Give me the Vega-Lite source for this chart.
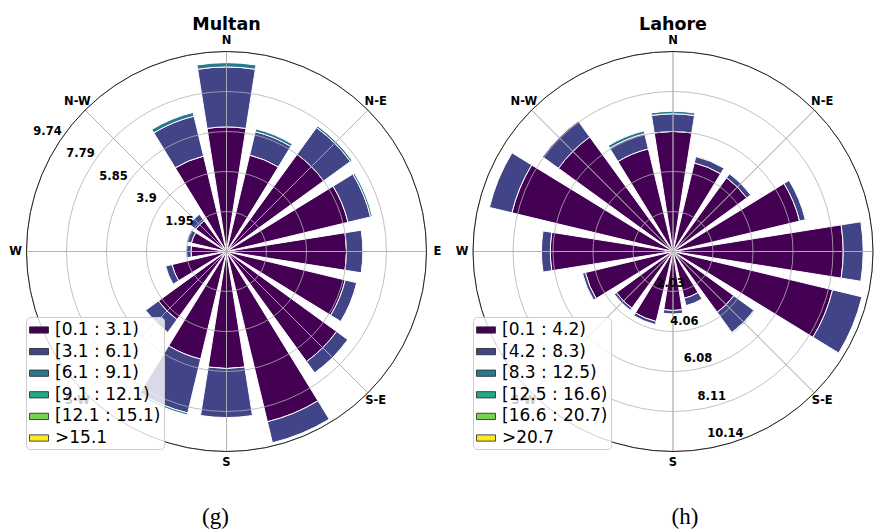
{
 "$schema": "https://vega.github.io/schema/vega-lite/v6.json",
 "padding": 0,
 "background": "white",
 "bounds": "flush",
 "spacing": 15,
 "config": {"view": {"stroke": null}, "font": "DejaVu Sans"},
 "datasets": {
  "m": [
   {"dir":0,"k":0,"bin":"[0.1 : 3.1)","v":6.07},{"dir":0,"k":1,"bin":"[3.1 : 6.1)","v":2.92},{"dir":0,"k":2,"bin":"[6.1 : 9.1)","v":0.21},
   {"dir":22.5,"k":0,"bin":"[0.1 : 3.1)","v":4.83},{"dir":22.5,"k":1,"bin":"[3.1 : 6.1)","v":1.17},{"dir":22.5,"k":2,"bin":"[6.1 : 9.1)","v":0.14},
   {"dir":45,"k":0,"bin":"[0.1 : 3.1)","v":5.85},{"dir":45,"k":1,"bin":"[3.1 : 6.1)","v":1.61},{"dir":45,"k":2,"bin":"[6.1 : 9.1)","v":0.1},
   {"dir":67.5,"k":0,"bin":"[0.1 : 3.1)","v":6.09},{"dir":67.5,"k":1,"bin":"[3.1 : 6.1)","v":1.13},{"dir":67.5,"k":2,"bin":"[6.1 : 9.1)","v":0.09},
   {"dir":90,"k":0,"bin":"[0.1 : 3.1)","v":5.85},{"dir":90,"k":1,"bin":"[3.1 : 6.1)","v":0.8},{"dir":90,"k":2,"bin":"[6.1 : 9.1)","v":0.02},
   {"dir":112.5,"k":0,"bin":"[0.1 : 3.1)","v":5.95},{"dir":112.5,"k":1,"bin":"[3.1 : 6.1)","v":0.58},{"dir":112.5,"k":2,"bin":"[6.1 : 9.1)","v":0.02},
   {"dir":135,"k":0,"bin":"[0.1 : 3.1)","v":6.63},{"dir":135,"k":1,"bin":"[3.1 : 6.1)","v":0.68},{"dir":135,"k":2,"bin":"[6.1 : 9.1)","v":0.02},
   {"dir":157.5,"k":0,"bin":"[0.1 : 3.1)","v":8.53},{"dir":157.5,"k":1,"bin":"[3.1 : 6.1)","v":1.05},
   {"dir":180,"k":0,"bin":"[0.1 : 3.1)","v":5.7},{"dir":180,"k":1,"bin":"[3.1 : 6.1)","v":2.39},
   {"dir":202.5,"k":0,"bin":"[0.1 : 3.1)","v":5.39},{"dir":202.5,"k":1,"bin":"[3.1 : 6.1)","v":2.7},{"dir":202.5,"k":2,"bin":"[6.1 : 9.1)","v":0.1},
   {"dir":225,"k":0,"bin":"[0.1 : 3.1)","v":4.1},{"dir":225,"k":1,"bin":"[3.1 : 6.1)","v":0.77},
   {"dir":247.5,"k":0,"bin":"[0.1 : 3.1)","v":2.73},{"dir":247.5,"k":1,"bin":"[3.1 : 6.1)","v":0.32},
   {"dir":270,"k":0,"bin":"[0.1 : 3.1)","v":1.73},{"dir":270,"k":1,"bin":"[3.1 : 6.1)","v":0.22},
   {"dir":292.5,"k":0,"bin":"[0.1 : 3.1)","v":1.76},{"dir":292.5,"k":1,"bin":"[3.1 : 6.1)","v":0.24},
   {"dir":315,"k":0,"bin":"[0.1 : 3.1)","v":1.85},{"dir":315,"k":1,"bin":"[3.1 : 6.1)","v":0.39},
   {"dir":337.5,"k":0,"bin":"[0.1 : 3.1)","v":4.78},{"dir":337.5,"k":1,"bin":"[3.1 : 6.1)","v":2.0},{"dir":337.5,"k":2,"bin":"[6.1 : 9.1)","v":0.19}
  ],
  "l": [
   {"dir":0,"k":0,"bin":"[0.1 : 4.2)","v":6.09},{"dir":0,"k":1,"bin":"[4.2 : 8.3)","v":0.89},{"dir":0,"k":2,"bin":"[8.3 : 12.5)","v":0.13},
   {"dir":22.5,"k":0,"bin":"[0.1 : 4.2)","v":4.62},{"dir":22.5,"k":1,"bin":"[4.2 : 8.3)","v":0.33},
   {"dir":45,"k":0,"bin":"[0.1 : 4.2)","v":4.62},{"dir":45,"k":1,"bin":"[4.2 : 8.3)","v":0.25},
   {"dir":67.5,"k":0,"bin":"[0.1 : 4.2)","v":6.6},{"dir":67.5,"k":1,"bin":"[4.2 : 8.3)","v":0.3},
   {"dir":90,"k":0,"bin":"[0.1 : 4.2)","v":8.63},{"dir":90,"k":1,"bin":"[4.2 : 8.3)","v":1.01},
   {"dir":112.5,"k":0,"bin":"[0.1 : 4.2)","v":8.32},{"dir":112.5,"k":1,"bin":"[4.2 : 8.3)","v":1.53},
   {"dir":135,"k":0,"bin":"[0.1 : 4.2)","v":3.81},{"dir":135,"k":1,"bin":"[4.2 : 8.3)","v":1.27},{"dir":135,"k":2,"bin":"[8.3 : 12.5)","v":0.05},
   {"dir":157.5,"k":0,"bin":"[0.1 : 4.2)","v":2.44},{"dir":157.5,"k":1,"bin":"[4.2 : 8.3)","v":0.38},
   {"dir":180,"k":0,"bin":"[0.1 : 4.2)","v":2.99},{"dir":180,"k":1,"bin":"[4.2 : 8.3)","v":0.18},
   {"dir":202.5,"k":0,"bin":"[0.1 : 4.2)","v":3.65},{"dir":202.5,"k":1,"bin":"[4.2 : 8.3)","v":0.16},
   {"dir":225,"k":0,"bin":"[0.1 : 4.2)","v":3.55},{"dir":225,"k":1,"bin":"[4.2 : 8.3)","v":0.13},
   {"dir":247.5,"k":0,"bin":"[0.1 : 4.2)","v":4.57},{"dir":247.5,"k":1,"bin":"[4.2 : 8.3)","v":0.15},
   {"dir":270,"k":0,"bin":"[0.1 : 4.2)","v":6.22},{"dir":270,"k":1,"bin":"[4.2 : 8.3)","v":0.45},
   {"dir":292.5,"k":0,"bin":"[0.1 : 4.2)","v":8.4},{"dir":292.5,"k":1,"bin":"[4.2 : 8.3)","v":1.17},
   {"dir":315,"k":0,"bin":"[0.1 : 4.2)","v":7.18},{"dir":315,"k":1,"bin":"[4.2 : 8.3)","v":0.99},
   {"dir":337.5,"k":0,"bin":"[0.1 : 4.2)","v":5.35},{"dir":337.5,"k":1,"bin":"[4.2 : 8.3)","v":0.79},{"dir":337.5,"k":2,"bin":"[8.3 : 12.5)","v":0.15}
  ],
  "mr": [{"r":1.9486,"lab":"1.95"},{"r":3.8972,"lab":"3.9"},{"r":5.8458,"lab":"5.85"},{"r":7.7944,"lab":"7.79"},{"r":9.743,"lab":"9.74"}],
  "lr": [{"r":2.0276,"lab":"2.03"},{"r":4.0552,"lab":"4.06"},{"r":6.0828,"lab":"6.08"},{"r":8.1104,"lab":"8.11"},{"r":10.138,"lab":"10.14"}],
  "sp": [{"dir":0},{"dir":45},{"dir":90},{"dir":135},{"dir":180},{"dir":225},{"dir":270},{"dir":315}],
  "dl": [{"dir":0,"lab":"N"},{"dir":45,"lab":"N-E"},{"dir":90,"lab":"E"},{"dir":135,"lab":"S-E"},{"dir":180,"lab":"S"},{"dir":225,"lab":"S-W"},{"dir":270,"lab":"W"},{"dir":315,"lab":"N-W"}],
  "dl2": [{"dir":0,"lab":"N"},{"dir":45,"lab":"N-E"},{"dir":135,"lab":"S-E"},{"dir":180,"lab":"S"},{"dir":225,"lab":"S-W"},{"dir":270,"lab":"W"},{"dir":315,"lab":"N-W"}]
 },
 "hconcat": [
  {
   "width": 453, "height": 503,
   "layer": [
    {
     "data": {"name": "m"},
     "transform": [
      {"stack": "v", "groupby": ["dir"], "sort": [{"field": "k", "order": "ascending"}], "as": ["r0", "r1"]},
      {"calculate": "datum.dir - 9", "as": "t0"},
      {"calculate": "datum.dir + 9", "as": "t1"}
     ],
     "mark": {"type": "arc", "stroke": "white", "strokeWidth": 1},
     "encoding": {
      "theta": {"field": "t0", "type": "quantitative", "stack": null, "scale": {"type": "linear", "domain": [0, 360], "range": [0, 6.283185307179586]}},
      "theta2": {"field": "t1"},
      "radius": {"field": "r0", "type": "quantitative", "stack": null, "scale": {"type": "linear", "domain": [0, 9.743], "range": [0, 200], "nice": false, "zero": true}},
      "radius2": {"field": "r1"},
      "color": {
       "field": "bin", "type": "nominal",
       "scale": {"domain": ["[0.1 : 3.1)", "[3.1 : 6.1)", "[6.1 : 9.1)", "[9.1 : 12.1)", "[12.1 : 15.1)", ">15.1"], "range": ["#440154", "#414487", "#2a788e", "#22a884", "#7ad151", "#fde725"]},
       "legend": {"title": null, "orient": "none", "legendX": 26, "legendY": 317, "fillColor": "rgba(255,255,255,0.8)", "strokeColor": "#cccccc", "cornerRadius": 4, "padding": 3, "labelFont": "DejaVu Sans", "labelFontSize": 17, "labelColor": "black", "labelOffset": 6, "rowPadding": 3.6, "labelLimit": 300, "symbolType": "M-1,-0.33H1V0.33H-1Z", "symbolSize": 361, "symbolStrokeColor": "#222222", "symbolStrokeWidth": 0.8, "symbolOpacity": 1,
        "encode": {"symbols": {"update": {"stroke": {"value": "#222222"}, "strokeWidth": {"value": 0.8}}}}}
      }
     }
    },
    {
     "data": {"name": "mr"},
     "mark": {"type": "arc", "theta": 0, "theta2": 6.2832, "filled": false, "stroke": "#b0b0b0", "strokeWidth": 0.8},
     "encoding": {"radius": {"field": "r", "type": "quantitative", "stack": null, "scale": {"type": "linear", "domain": [0, 9.743], "range": [0, 200], "nice": false, "zero": true}}}
    },
    {
     "data": {"name": "sp"},
     "mark": {"type": "arc", "filled": false, "stroke": "#b0b0b0", "strokeWidth": 0.8},
     "encoding": {
      "theta": {"field": "dir", "type": "quantitative", "stack": null, "scale": {"type": "linear", "domain": [0, 360], "range": [0, 6.283185307179586]}},
      "theta2": {"field": "dir"},
      "radius": {"datum": 9.743, "type": "quantitative", "stack": null, "scale": {"type": "linear", "domain": [0, 9.743], "range": [0, 200], "nice": false, "zero": true}},
      "radius2": {"datum": 0}
     }
    },
    {
     "data": {"values": [{"o": 1}]},
     "mark": {"type": "arc", "theta": 0, "theta2": 6.2832, "filled": false, "stroke": "#222222", "strokeWidth": 1},
     "encoding": {"radius": {"datum": 9.743, "type": "quantitative", "stack": null, "scale": {"type": "linear", "domain": [0, 9.743], "range": [0, 200], "nice": false, "zero": true}}}
    },
    {
     "data": {"name": "dl"},
     "mark": {"type": "text", "radius": 211, "fontWeight": "bold", "fontSize": 11.5, "align": "center", "baseline": "middle", "color": "black"},
     "encoding": {"theta": {"field": "dir", "type": "quantitative", "stack": null, "scale": {"type": "linear", "domain": [0, 360], "range": [0, 6.283185307179586]}}, "text": {"field": "lab"}}
    },
    {
     "data": {"name": "mr"},
     "mark": {"type": "text", "fontWeight": "bold", "fontSize": 11.5, "align": "center", "baseline": "middle", "dx": -14, "dy": -7, "color": "black"},
     "encoding": {
      "theta": {"datum": 304.4, "type": "quantitative", "scale": {"type": "linear", "domain": [0, 360], "range": [0, 6.283185307179586]}},
      "radius": {"field": "r", "type": "quantitative", "stack": null, "scale": {"type": "linear", "domain": [0, 9.743], "range": [0, 200], "nice": false, "zero": true}},
      "text": {"field": "lab"}
     }
    },
    {
     "data": {"values": [{"t": "Multan"}]},
     "mark": {"type": "text", "radius": 227, "fontWeight": "bold", "fontSize": 17.5, "align": "center", "baseline": "middle", "color": "black"},
     "encoding": {"theta": {"datum": 0, "type": "quantitative", "scale": {"type": "linear", "domain": [0, 360], "range": [0, 6.283185307179586]}}, "text": {"field": "t"}}
    },
    {
     "data": {"values": [{"t": "(g)"}]},
     "mark": {"type": "text", "radius": 265, "dx": -11, "font": "Liberation Serif", "fontSize": 23, "align": "center", "baseline": "middle", "color": "black"},
     "encoding": {"theta": {"datum": 180, "type": "quantitative", "scale": {"type": "linear", "domain": [0, 360], "range": [0, 6.283185307179586]}}, "text": {"field": "t"}}
    }
   ]
  },
  {
   "width": 410, "height": 503,
   "layer": [
    {
     "data": {"name": "l"},
     "transform": [
      {"stack": "v", "groupby": ["dir"], "sort": [{"field": "k", "order": "ascending"}], "as": ["r0", "r1"]},
      {"calculate": "datum.dir - 9", "as": "t0"},
      {"calculate": "datum.dir + 9", "as": "t1"}
     ],
     "mark": {"type": "arc", "stroke": "white", "strokeWidth": 1},
     "encoding": {
      "theta": {"field": "t0", "type": "quantitative", "stack": null, "scale": {"type": "linear", "domain": [0, 360], "range": [0, 6.283185307179586]}},
      "theta2": {"field": "t1"},
      "radius": {"field": "r0", "type": "quantitative", "stack": null, "scale": {"type": "linear", "domain": [0, 10.138], "range": [0, 200], "nice": false, "zero": true}},
      "radius2": {"field": "r1"},
      "color": {
       "field": "bin", "type": "nominal",
       "scale": {"domain": ["[0.1 : 4.2)", "[4.2 : 8.3)", "[8.3 : 12.5)", "[12.5 : 16.6)", "[16.6 : 20.7)", ">20.7"], "range": ["#440154", "#414487", "#2a788e", "#22a884", "#7ad151", "#fde725"]},
       "legend": {"title": null, "orient": "none", "legendX": 5, "legendY": 317, "fillColor": "rgba(255,255,255,0.8)", "strokeColor": "#cccccc", "cornerRadius": 4, "padding": 3, "labelFont": "DejaVu Sans", "labelFontSize": 17, "labelColor": "black", "labelOffset": 6, "rowPadding": 3.6, "labelLimit": 300, "symbolType": "M-1,-0.33H1V0.33H-1Z", "symbolSize": 361, "symbolStrokeColor": "#222222", "symbolStrokeWidth": 0.8, "symbolOpacity": 1,
        "encode": {"symbols": {"update": {"stroke": {"value": "#222222"}, "strokeWidth": {"value": 0.8}}}}}
      }
     }
    },
    {
     "data": {"name": "lr"},
     "mark": {"type": "arc", "theta": 0, "theta2": 6.2832, "filled": false, "stroke": "#b0b0b0", "strokeWidth": 0.8},
     "encoding": {"radius": {"field": "r", "type": "quantitative", "stack": null, "scale": {"type": "linear", "domain": [0, 10.138], "range": [0, 200], "nice": false, "zero": true}}}
    },
    {
     "data": {"name": "sp"},
     "mark": {"type": "arc", "filled": false, "stroke": "#b0b0b0", "strokeWidth": 0.8},
     "encoding": {
      "theta": {"field": "dir", "type": "quantitative", "stack": null, "scale": {"type": "linear", "domain": [0, 360], "range": [0, 6.283185307179586]}},
      "theta2": {"field": "dir"},
      "radius": {"datum": 10.138, "type": "quantitative", "stack": null, "scale": {"type": "linear", "domain": [0, 10.138], "range": [0, 200], "nice": false, "zero": true}},
      "radius2": {"datum": 0}
     }
    },
    {
     "data": {"values": [{"o": 1}]},
     "mark": {"type": "arc", "theta": 0, "theta2": 6.2832, "filled": false, "stroke": "#222222", "strokeWidth": 1},
     "encoding": {"radius": {"datum": 10.138, "type": "quantitative", "stack": null, "scale": {"type": "linear", "domain": [0, 10.138], "range": [0, 200], "nice": false, "zero": true}}}
    },
    {
     "data": {"name": "dl2"},
     "mark": {"type": "text", "radius": 211, "fontWeight": "bold", "fontSize": 11.5, "align": "center", "baseline": "middle", "color": "black"},
     "encoding": {"theta": {"field": "dir", "type": "quantitative", "stack": null, "scale": {"type": "linear", "domain": [0, 360], "range": [0, 6.283185307179586]}}, "text": {"field": "lab"}}
    },
    {
     "data": {"name": "lr"},
     "mark": {"type": "text", "fontWeight": "bold", "fontSize": 11.5, "align": "center", "baseline": "middle", "dx": -16, "dy": -5, "color": "black"},
     "encoding": {
      "theta": {"datum": 160, "type": "quantitative", "scale": {"type": "linear", "domain": [0, 360], "range": [0, 6.283185307179586]}},
      "radius": {"field": "r", "type": "quantitative", "stack": null, "scale": {"type": "linear", "domain": [0, 10.138], "range": [0, 200], "nice": false, "zero": true}},
      "text": {"field": "lab"}
     }
    },
    {
     "data": {"values": [{"t": "Lahore"}]},
     "mark": {"type": "text", "radius": 227, "fontWeight": "bold", "fontSize": 17.5, "align": "center", "baseline": "middle", "color": "black"},
     "encoding": {"theta": {"datum": 0, "type": "quantitative", "scale": {"type": "linear", "domain": [0, 360], "range": [0, 6.283185307179586]}}, "text": {"field": "t"}}
    },
    {
     "data": {"values": [{"t": "(h)"}]},
     "mark": {"type": "text", "radius": 265, "dx": 12, "font": "Liberation Serif", "fontSize": 23, "align": "center", "baseline": "middle", "color": "black"},
     "encoding": {"theta": {"datum": 180, "type": "quantitative", "scale": {"type": "linear", "domain": [0, 360], "range": [0, 6.283185307179586]}}, "text": {"field": "t"}}
    }
   ]
  }
 ],
 "resolve": {"scale": {"theta": "independent", "radius": "independent", "color": "independent"}, "legend": {"color": "independent"}}
}
